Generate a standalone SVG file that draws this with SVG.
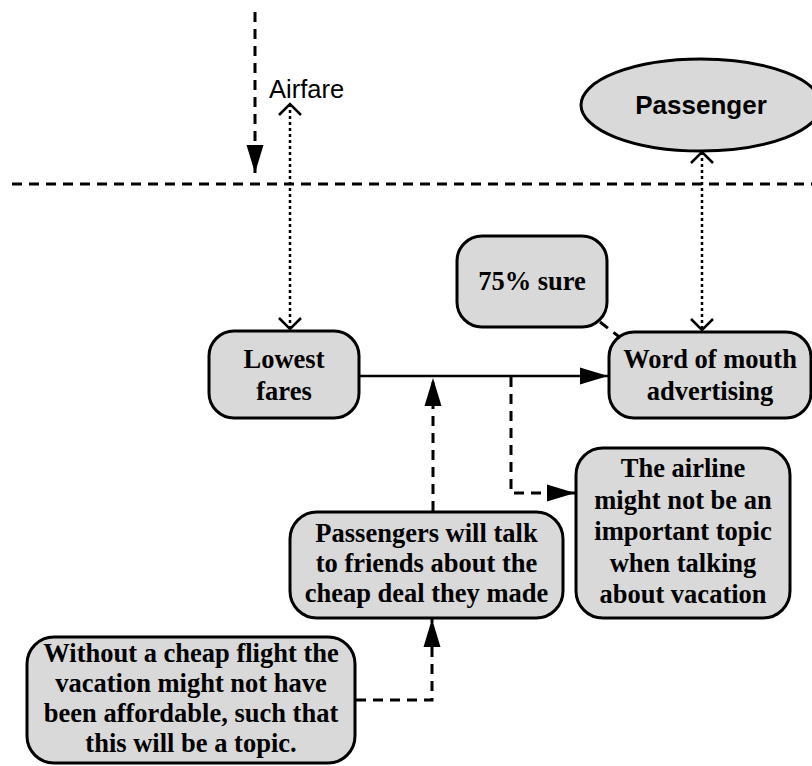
<svg xmlns="http://www.w3.org/2000/svg" width="812" height="766" viewBox="0 0 812 766">
<defs>
<style>
.box{fill:#d9d9d9;stroke:#000;stroke-width:3}
.t{font-family:"Liberation Serif","Times New Roman",serif;font-weight:bold;font-size:26.5px;text-anchor:middle;fill:#000}
.s{font-family:"Liberation Sans",Arial,sans-serif;fill:#000}
.dash{fill:none;stroke:#000;stroke-width:3;stroke-dasharray:10 7}
.dot{fill:none;stroke:#000;stroke-width:2.5;stroke-dasharray:3 3}
.solid{fill:none;stroke:#000;stroke-width:2.5}
</style>
<marker id="fill" markerUnits="userSpaceOnUse" markerWidth="30" markerHeight="20" refX="28" refY="9" orient="auto">
<path d="M0,0.5 L28,9 L0,17.5 Z" fill="#000"/>
</marker>
<marker id="open" markerUnits="userSpaceOnUse" markerWidth="16" markerHeight="26" refX="12" refY="12" orient="auto-start-reverse">
<path d="M1,1 L12,12 L1,23" fill="none" stroke="#000" stroke-width="2.5"/>
</marker>
</defs>
<rect width="812" height="766" fill="#fff"/>

<g id="connectors">
<line class="dash" x1="12" y1="184" x2="812" y2="184"/>
<line class="dash" x1="255" y1="12" x2="255" y2="173" marker-end="url(#fill)"/>
<line class="dot" x1="290" y1="104" x2="290" y2="329" marker-start="url(#open)" marker-end="url(#open)"/>
<line class="dot" x1="702" y1="152" x2="702" y2="330" marker-start="url(#open)" marker-end="url(#open)"/>
<line class="solid" x1="359" y1="376" x2="608" y2="376" marker-end="url(#fill)"/>
<line class="dash" x1="433" y1="511" x2="433" y2="378" marker-end="url(#fill)"/>
<polyline class="dash" points="511,377 511,493 575,493" marker-end="url(#fill)"/>
<line class="dash" x1="600" y1="322" x2="622" y2="339"/>
<polyline class="dash" points="356,700 432,700 432,619" marker-end="url(#fill)"/>
</g>

<g id="airfare">
<text class="s" x="269" y="98" font-size="25.5">Airfare</text>
</g>

<g id="passenger">
<ellipse class="box" cx="701" cy="105" rx="120" ry="46"/>
<text class="s" x="701" y="114" font-size="26" font-weight="bold" text-anchor="middle">Passenger</text>
</g>

<g id="lowest-fares">
<rect class="box" x="209" y="331" width="150" height="87" rx="25"/>
<text class="t" x="284" y="368">Lowest</text>
<text class="t" x="284" y="400">fares</text>
</g>

<g id="sure">
<rect class="box" x="457" y="236" width="150" height="91" rx="25"/>
<text class="t" x="532" y="290">75% sure</text>
</g>

<g id="word-of-mouth">
<rect class="box" x="609" y="332" width="202" height="86" rx="25"/>
<text class="t" x="710" y="368">Word of mouth</text>
<text class="t" x="710" y="400">advertising</text>
</g>

<g id="passengers-talk">
<rect class="box" x="290" y="512" width="273" height="106" rx="27"/>
<text class="t" x="426.5" y="542">Passengers will talk</text>
<text class="t" x="426.5" y="572">to friends about the</text>
<text class="t" x="426.5" y="602">cheap deal they made</text>
</g>

<g id="airline-topic">
<rect class="box" x="576" y="448" width="214" height="170" rx="27"/>
<text class="t" x="683" y="477">The airline</text>
<text class="t" x="683" y="508.5">might not be an</text>
<text class="t" x="683" y="540">important topic</text>
<text class="t" x="683" y="572">when talking</text>
<text class="t" x="683" y="603">about vacation</text>
</g>

<g id="cheap-flight">
<rect class="box" x="27" y="637" width="328" height="126" rx="27"/>
<text class="t" x="191" y="662">Without a cheap flight the</text>
<text class="t" x="191" y="692">vacation might not have</text>
<text class="t" x="191" y="722">been affordable, such that</text>
<text class="t" x="191" y="752">this will be a topic.</text>
</g>
</svg>
